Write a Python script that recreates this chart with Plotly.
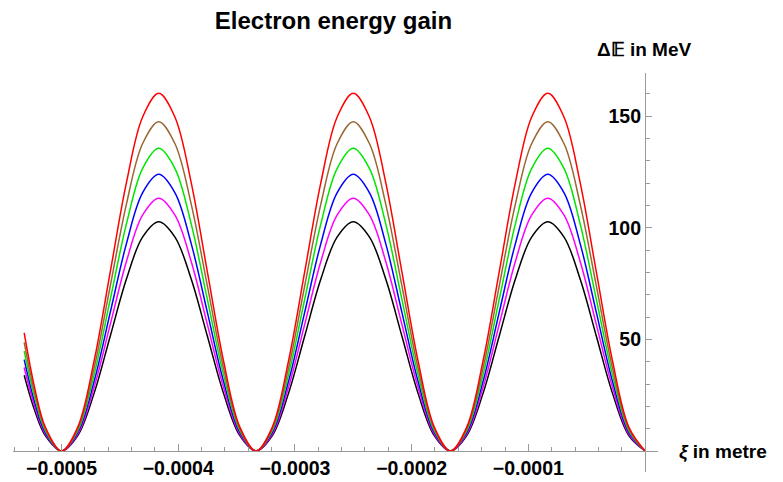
import plotly.graph_objects as go

# positions along the beam (metre)
xi = [-0.000532, -0.000523,
      -0.0005139, -0.0005, -0.0004861, -0.0004722, -0.0004583, -0.0004444,
      -0.0004306, -0.0004167, -0.0004028, -0.0003889, -0.000375, -0.0003611,
      -0.0003472, -0.0003333, -0.0003194, -0.0003056, -0.0002917, -0.0002778,
      -0.0002639, -0.00025, -0.0002361, -0.0002222, -0.0002083, -0.0001944,
      -0.0001806, -0.0001667, -0.0001528, -0.0001389, -0.000125, -0.0001111,
      -0.0000972, -0.0000833, -0.0000694, -0.0000556, -0.0000417, -0.0000278,
      -0.0000139, 0.0]

# energy gain (MeV) for each curve
red = [52.9, 28.2,
       10.7, 0.0, 10.7, 40.1, 80.1, 120.2, 149.5, 160.2, 149.5, 120.2, 80.1, 40.1,
       10.7, 0.0, 10.7, 40.1, 80.1, 120.2, 149.5, 160.2, 149.5, 120.2, 80.1, 40.1,
       10.7, 0.0, 10.7, 40.1, 80.1, 120.2, 149.5, 160.2, 149.5, 120.2, 80.1, 40.1,
       10.7, 0.0]
brown = [48.7, 26.0,
         9.9, 0.0, 9.9, 36.9, 73.8, 110.6, 137.6, 147.5, 137.6, 110.6, 73.8, 36.9,
         9.9, 0.0, 9.9, 36.9, 73.8, 110.6, 137.6, 147.5, 137.6, 110.6, 73.8, 36.9,
         9.9, 0.0, 9.9, 36.9, 73.8, 110.6, 137.6, 147.5, 137.6, 110.6, 73.8, 36.9,
         9.9, 0.0]
green = [44.7, 23.9,
         9.1, 0.0, 9.1, 33.9, 67.8, 101.7, 126.5, 135.6, 126.5, 101.7, 67.8, 33.9,
         9.1, 0.0, 9.1, 33.9, 67.8, 101.7, 126.5, 135.6, 126.5, 101.7, 67.8, 33.9,
         9.1, 0.0, 9.1, 33.9, 67.8, 101.7, 126.5, 135.6, 126.5, 101.7, 67.8, 33.9,
         9.1, 0.0]
blue = [40.9, 21.8,
        8.3, 0.0, 8.3, 31.0, 62.0, 92.9, 115.6, 123.9, 115.6, 92.9, 62.0, 31.0,
        8.3, 0.0, 8.3, 31.0, 62.0, 92.9, 115.6, 123.9, 115.6, 92.9, 62.0, 31.0,
        8.3, 0.0, 8.3, 31.0, 62.0, 92.9, 115.6, 123.9, 115.6, 92.9, 62.0, 31.0,
        8.3, 0.0]
magenta = [37.4, 19.9,
           7.6, 0.0, 7.6, 28.3, 56.6, 84.9, 105.6, 113.2, 105.6, 84.9, 56.6, 28.3,
           7.6, 0.0, 7.6, 28.3, 56.6, 84.9, 105.6, 113.2, 105.6, 84.9, 56.6, 28.3,
           7.6, 0.0, 7.6, 28.3, 56.6, 84.9, 105.6, 113.2, 105.6, 84.9, 56.6, 28.3,
           7.6, 0.0]
black = [33.9, 18.1,
         6.9, 0.0, 6.9, 25.7, 51.4, 77.0, 95.8, 102.7, 95.8, 77.0, 51.4, 25.7,
         6.9, 0.0, 6.9, 25.7, 51.4, 77.0, 95.8, 102.7, 95.8, 77.0, 51.4, 25.7,
         6.9, 0.0, 6.9, 25.7, 51.4, 77.0, 95.8, 102.7, 95.8, 77.0, 51.4, 25.7,
         6.9, 0.0]

series = [
    ("black", black, "rgb(0,0,0)"),
    ("magenta", magenta, "rgb(255,0,255)"),
    ("blue", blue, "rgb(0,0,255)"),
    ("green", green, "rgb(0,230,0)"),
    ("brown", brown, "rgb(153,102,51)"),
    ("red", red, "rgb(255,0,0)"),
]

x_tickvals = [-0.0005, -0.0004, -0.0003, -0.0002, -0.0001]
x_ticktext = ["\u22120.0005", "\u22120.0004", "\u22120.0003", "\u22120.0002", "\u22120.0001"]
y_tickvals = [50, 100, 150]
y_ticktext = ["50", "100", "150"]

fig = go.Figure()
for name, vals, col in series:
    fig.add_trace(go.Scatter(x=xi, y=vals, mode="lines", name=name,
                             line=dict(color=col, width=1.5, shape="spline", smoothing=1.0),
                             showlegend=False, hoverinfo="skip"))

axis_col = "#9a9a9a"
FONT = "Liberation Sans, Arial"
tick_font = dict(family=FONT, size=19.5, color="black", weight="bold")

# the page body adds an 8px offset; margins compensate for it
fig.update_layout(
    width=783, height=482,
    margin=dict(l=5, r=133, t=65, b=18),
    paper_bgcolor="white", plot_bgcolor="white",
    title=dict(text="<b>Electron energy gain</b>", x=325.5/783, xanchor="center",
               y=1 - 13/482, yanchor="middle", xref="container", yref="container",
               font=dict(family=FONT, size=24, color="black")),
    xaxis=dict(range=[-0.0005416, 0.0000111], anchor="free", position=0.0526,
               showline=True, linecolor=axis_col, linewidth=1,
               showgrid=False, zeroline=False,
               tickmode="array", tickvals=x_tickvals, ticktext=x_ticktext,
               ticks="inside", ticklen=7, tickwidth=1, tickcolor=axis_col,
               minor=dict(tickmode="linear", tick0=0, dtick=0.00002, ticks="inside",
                          ticklen=4, tickwidth=1, tickcolor=axis_col, showgrid=False),
               tickfont=tick_font, automargin=False),
    yaxis=dict(range=[-9.4, 169.3], anchor="free", position=0.9798, side="left",
               showline=True, linecolor=axis_col, linewidth=1,
               showgrid=False, zeroline=False,
               tickmode="array", tickvals=y_tickvals, ticktext=y_ticktext,
               ticks="inside", ticklen=6, tickwidth=1, tickcolor=axis_col,
               minor=dict(tickmode="linear", tick0=0, dtick=10, ticks="inside",
                          ticklen=4, tickwidth=1, tickcolor=axis_col, showgrid=False),
               tickfont=tick_font, automargin=False),
    annotations=[
        dict(text="<b>\u0394\U0001D53C in MeV</b>", x=(643.5 - 13)/645, y=(472 - 50)/399,
             xref="paper", yref="paper", xanchor="center", yanchor="middle",
             showarrow=False, font=dict(family=FONT, size=19, color="black")),
        dict(text="<b><i>\u03be</i> in metre</b>", x=(677 - 13)/645, y=(472 - 452)/399,
             xref="paper", yref="paper", xanchor="left", yanchor="middle",
             showarrow=False, font=dict(family=FONT, size=19, color="black")),
    ],
)

fig.write_html("out.html")
